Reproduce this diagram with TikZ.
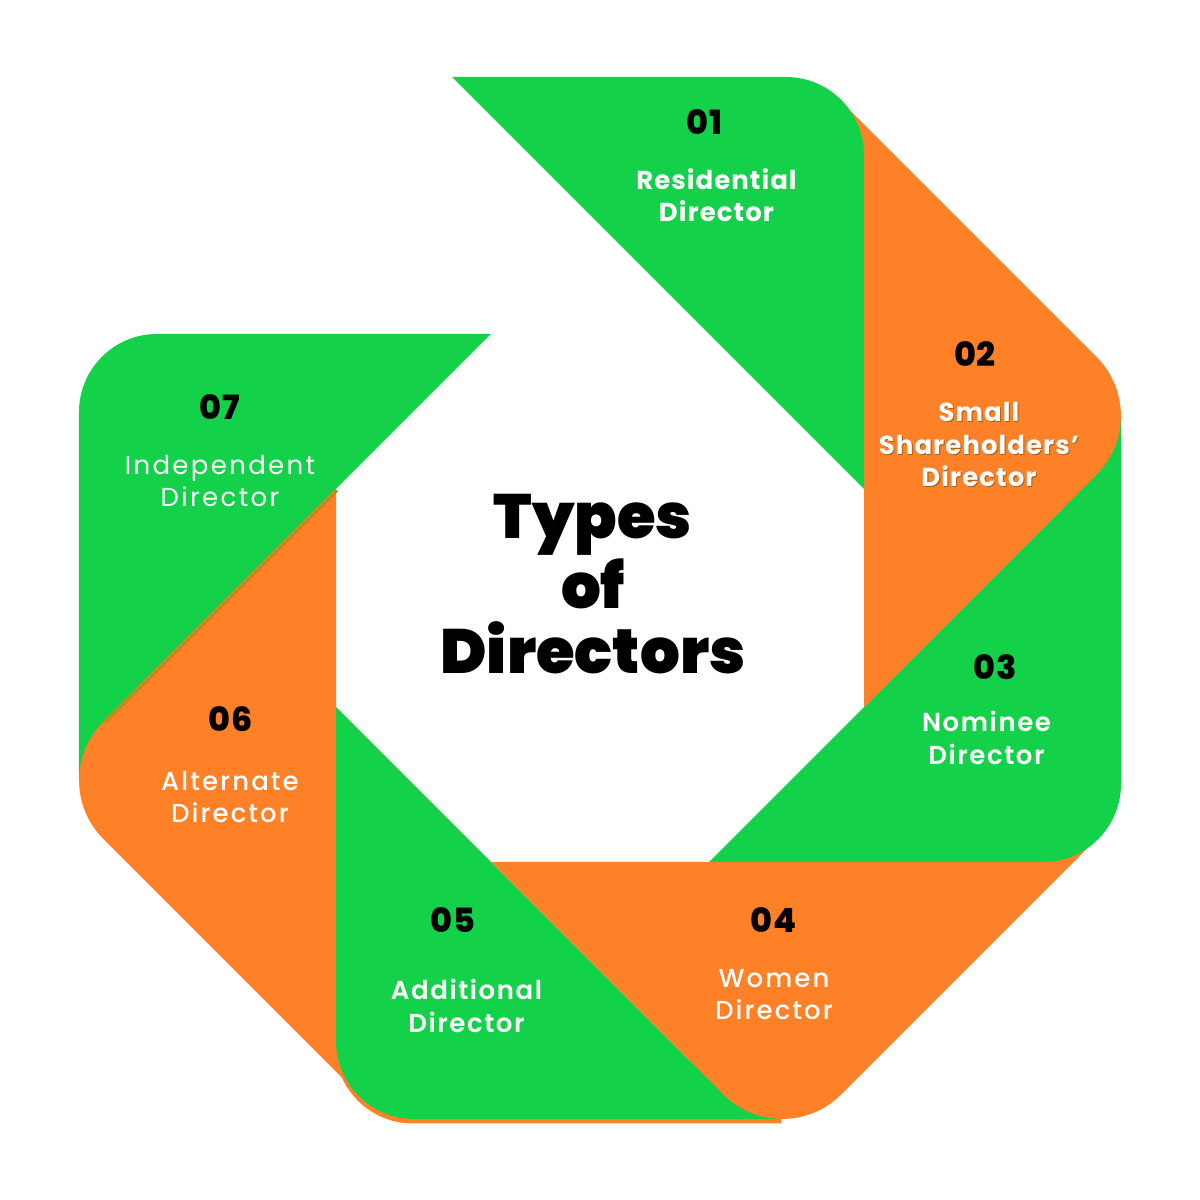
\documentclass[tikz,border=0pt]{standalone}
\usepackage{fontspec}
\usepackage{tikz}
\usetikzlibrary{positioning, calc}
\setmainfont{Poppins}
\newfontfamily\popreg{Poppins}[LetterSpace=9]
\newfontfamily\popmed{Poppins Medium}[LetterSpace=8]
\newfontfamily\popsemi{Poppins SemiBold}[LetterSpace=6]
\newfontfamily\popbold{Poppins Bold}[LetterSpace=4]
\newfontfamily\popheavy{Poppins ExtraBold}[LetterSpace=3]
\newfontfamily\popblack{Poppins Black}
\newcommand{\labsize}{\fontsize{7.4pt}{9.25pt}\selectfont}
\definecolor{dirgreen}{HTML}{13D148}
\definecolor{dirorange}{HTML}{FE8128}
\definecolor{dirolive}{HTML}{C08C16}
\definecolor{dirshade}{HTML}{A8600E}
\tikzset{
  gfill/.style={fill=dirgreen},
  ofill/.style={fill=dirorange},
  numtext/.style={font=\popheavy\fontsize{9.5pt}{10pt}\selectfont, text=black, inner sep=0pt, anchor=base},
  labtext/.style={font={#1\labsize}, text=white, align=center, inner sep=0pt, anchor=base},
  titletext/.style={font=\popblack\fontsize{17.8pt}{18.4pt}\selectfont, text=black, align=center, inner sep=0pt}
}
% green piece, tip tucked under the orange piece before it
\newcommand{\greenext}[2]{%
  \fill[#2, shift={(6,6.02)}, rotate=#1] (-1.823,5.21) -- (1.86,5.21)
    arc[start angle=90, end angle=0, radius=0.78] -- (2.64,1.09)
    -- (-0.9,4.63) -- (-1.823,4.6) -- cycle;}
% orange piece, tip tucked under the green piece before it
\newcommand{\orangepiece}[1]{%
  \fill[ofill, shift={(6,6.02)}, rotate=#1] (2.64,-1.09) -- (4.966,1.236)
    arc[start angle=-45, end angle=45, radius=0.83] -- (2.40,4.977)
    -- (2.64,4.2) -- cycle;}

\begin{document}
\begin{tikzpicture}
  \useasboundingbox (0,0) rectangle (12,12);
  \fill[white] (0,0) rectangle (12,12);
  \coordinate (ctr) at (6,6.02);
  % Ring, drawn from 07 back to 01
  \greenext{90}{gfill}
  \orangepiece{180}
  \draw[dirolive, line width=0.9pt, shift={(ctr)}, rotate=180] (2.63,-1.075) -- (4.95,1.245);
  \greenext{180}{ofill, xshift=-0.1mm, yshift=-0.45mm} % orange rim under 05
  \greenext{180}{gfill}
  \orangepiece{270}
  \greenext{270}{gfill}
  \orangepiece{0}
  \fill[gfill, shift={(ctr)}] (-1.48,5.21) -- (1.86,5.21)
    arc[start angle=90, end angle=0, radius=0.78] -- (2.64,1.09) -- cycle;
  % Title
  \node[titletext] (title) at (5.93,6.16) {Types\\of\\Directors};
  % Numbers
  \node[numtext] (n01) at (7.04,10.65) {01};
  \node[numtext] (n02) at (9.75,8.33) {02};
  \node[numtext] (n03) at (9.95,5.205) {03};
  \node[numtext] (n04) at (7.735,2.68) {04};
  \node[numtext] (n05) at (4.525,2.68) {05};
  \node[numtext] (n06) at (2.31,4.68) {06};
  \node[numtext] (n07) at (2.20,7.80) {07};
  % Labels (anchored on the last line)
  \node[labtext=\popbold] (l01) at (7.165,9.78) {Residential\\Director};
  \node[labtext=\popbold, text=dirshade] (l02s) at (9.80,7.12) {Small\\Shareholders’\\Director};
  \node[labtext=\popbold] (l02) at (9.79,7.13) {Small\\Shareholders’\\Director};
  \node[labtext=\popsemi] (l03) at (9.865,4.355) {Nominee\\Director};
  \node[labtext=\popmed] (l04) at (7.74,1.80) {Women\\Director};
  \node[labtext=\popsemi] (l05) at (4.665,1.68) {Additional\\Director};
  \node[labtext=\popmed] (l06) at (2.30,3.77) {Alternate\\Director};
  \node[labtext=\popreg] (l07) at (2.20,6.93) {Independent\\Director};
\end{tikzpicture}
\end{document}
